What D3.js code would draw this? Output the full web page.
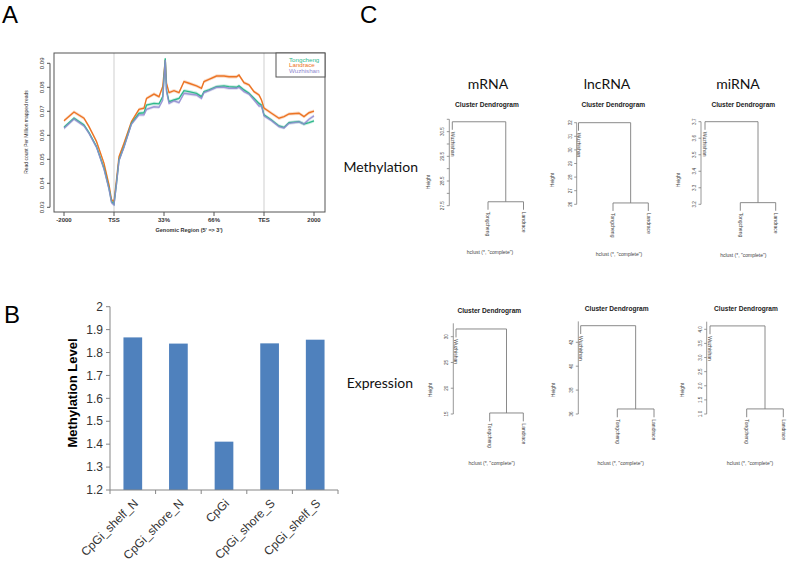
<!DOCTYPE html>
<html><head><meta charset="utf-8">
<script src="https://cdn.jsdelivr.net/npm/d3@7"></script>
<style>body{margin:0;background:#fff}svg{display:block}</style>
</head><body><svg id="c" width="787" height="567"></svg>
<script>
// ---------------- Panel A data ----------------
const binPos = [0,4,8,10,13,16,18,19,20,21,22,24,27,30,32,33,36,38,39.5,40.5,41,42,44,46,48,50,53,55,56,58,61,64,66,69,70,72,74,76,78,79,80,83,86,88,90,94,96,98,100];
const tongcheng = [0.0633,0.0671,0.0643,0.0611,0.0553,0.0463,0.0379,0.0324,0.0313,0.0400,0.0497,0.0553,0.0650,0.0692,0.0694,0.0726,0.0733,0.0731,0.0761,0.0921,0.0789,0.0740,0.0747,0.0754,0.0786,0.0782,0.0775,0.0761,0.0782,0.0789,0.0803,0.0806,0.0803,0.0800,0.0806,0.0789,0.0775,0.0754,0.0733,0.0726,0.0685,0.0664,0.0639,0.0633,0.0653,0.0657,0.0647,0.0653,0.0660];
const landrace = [0.0661,0.0697,0.0671,0.0636,0.0574,0.0483,0.0393,0.0331,0.0324,0.0414,0.0511,0.0567,0.0657,0.0708,0.0713,0.0754,0.0772,0.0761,0.0803,0.0914,0.0817,0.0778,0.0786,0.0778,0.0824,0.0817,0.0806,0.0796,0.0824,0.0833,0.0847,0.0847,0.0844,0.0844,0.0851,0.0819,0.0810,0.0782,0.0768,0.0747,0.0713,0.0692,0.0671,0.0678,0.0689,0.0692,0.0678,0.0694,0.0701];
const wuzhishan = [0.0629,0.0668,0.0639,0.0608,0.0550,0.0458,0.0375,0.0319,0.0310,0.0397,0.0494,0.0550,0.0647,0.0685,0.0685,0.0708,0.0719,0.0717,0.0747,0.0914,0.0782,0.0733,0.0744,0.0736,0.0775,0.0772,0.0768,0.0754,0.0778,0.0786,0.0800,0.0800,0.0796,0.0796,0.0800,0.0782,0.0772,0.0747,0.0722,0.0722,0.0681,0.0661,0.0636,0.0631,0.0650,0.0656,0.0647,0.0667,0.0681];
const ribbonHalf = 0.0007;
const seriesNames = ["Tongcheng","Landrace","Wuzhishan"];
const seriesColors = ["#2fb88c","#ec7424","#8f8ad0"];
const xTickPos = [0,20,40,60,80,100];
const xTickLabels = ["-2000","TSS","33%","66%","TES","2000"];
const guideLinePos = [20,80];
const yTicksA = [0.03,0.04,0.05,0.06,0.07,0.08,0.09];

// ---------------- Panel B data ----------------
const cpgCategories = ["CpGi_shelf_N","CpGi_shore_N","CpGi","CpGi_shore_S","CpGi_shelf_S"];
const cpgValues = [1.866,1.839,1.411,1.840,1.856];
const yTicksB = [1.2,1.3,1.4,1.5,1.6,1.7,1.8,1.9,2];

// ---------------- Panel C data ----------------
const omicsTypes = ["mRNA","lncRNA","miRNA"];
const dataTypes = ["Methylation","Expression"];
const leafLabels = ["Wuzhishan","Tongcheng","Landrace"];
const rootHeights = [30.9, 32.0, 3.70, 31.5, 43.39, 4.12];
const subHeights  = [27.66, 26.1, 3.21, 15.2, 36.42, 1.18];
const heightTicks = [
  [27.5,28,28.5,29,29.5,30,30.5,31],
  [26,27,28,29,30,31,32],
  [3.2,3.3,3.4,3.5,3.6,3.7],
  [15,20,25,30],
  [36,38,40,42],
  [1,1.5,2,2.5,3,3.5,4]
];
const heightTickLabels = [
  ["27.5","","28.5","","29.5","","30.5",""],
  ["26","27","28","29","30","31","32"],
  ["3.2","3.3","3.4","3.5","3.6","3.7"],
  ["15","20","25","30"],
  ["36","38","40","42"],
  ["1.0","1.5","2.0","2.5","3.0","3.5","4.0"]
];
const axisTops = [31, 32, 3.7, 32.6, 43.75, 4.27];

// ---------------- drawing ----------------
const svg = d3.select("#c");
svg.append("rect").attr("width",787).attr("height",567).attr("fill","#fff");
const F = "Liberation Sans, Arial, sans-serif";

[["A",2,23],["B",4,323],["C",360,23]].forEach(([t,x,y])=>{
  svg.append("text").attr("x",x).attr("y",y).text(t)
    .attr("font-family",F).attr("font-size",24).attr("fill","#000");
});

// ===== Panel A =====
(function(){
  const g = svg.append("g");
  const x = d3.scaleLinear().domain([0,100]).range([64,314]);
  const y = d3.scaleLinear().domain([0.03,0.09]).range([207.3,63.3]);
  const box = {x0:54,x1:325,y0:53,y1:212};
  guideLinePos.forEach(p=>{
    g.append("line").attr("x1",x(p)).attr("x2",x(p)).attr("y1",box.y0).attr("y2",box.y1)
      .attr("stroke","#cfcfcf").attr("stroke-width",1);
  });
  const series = [tongcheng, landrace, wuzhishan];
  const order = [1,0,2];
  order.forEach(i=>{
    const area = d3.area().x((d,k)=>x(binPos[k])).y0(d=>y(d-ribbonHalf)).y1(d=>y(d+ribbonHalf));
    g.append("path").attr("d",area(series[i])).attr("fill",seriesColors[i]).attr("opacity",0.25);
  });
  order.forEach(i=>{
    const line = d3.line().x((d,k)=>x(binPos[k])).y(d=>y(d));
    g.append("path").attr("d",line(series[i])).attr("fill","none")
      .attr("stroke",seriesColors[i]).attr("stroke-width",1.4)
      .attr("opacity", i===2?0.85:1);
  });
  g.append("rect").attr("x",box.x0).attr("y",box.y0).attr("width",box.x1-box.x0).attr("height",box.y1-box.y0)
    .attr("fill","none").attr("stroke","#555").attr("stroke-width",1);
  const ax = 50;
  g.append("line").attr("x1",ax).attr("x2",ax).attr("y1",y(0.09)).attr("y2",y(0.03)).attr("stroke","#555");
  yTicksA.forEach(t=>{
    g.append("line").attr("x1",ax-3).attr("x2",ax).attr("y1",y(t)).attr("y2",y(t)).attr("stroke","#555");
    g.append("text").attr("transform",`translate(${ax-6},${y(t)}) rotate(-90)`)
      .attr("text-anchor","middle").attr("font-family",F).attr("font-size",6).attr("fill","#333")
      .text(t.toFixed(2));
  });
  xTickPos.forEach((p,k)=>{
    g.append("line").attr("x1",x(p)).attr("x2",x(p)).attr("y1",box.y1).attr("y2",box.y1+4).attr("stroke","#555");
    g.append("text").attr("x",x(p)).attr("y",box.y1+10).attr("text-anchor","middle")
      .attr("font-family",F).attr("font-size",6).attr("font-weight","bold").attr("fill","#333").text(xTickLabels[k]);
  });
  g.append("text").attr("x",189).attr("y",232).attr("text-anchor","middle")
    .attr("font-family",F).attr("font-size",5.5).attr("font-weight","bold").attr("fill","#333")
    .text("Genomic Region (5' => 3')");
  g.append("text").attr("transform","translate(28,132) rotate(-90)").attr("text-anchor","middle")
    .attr("font-family",F).attr("font-size",5).attr("fill","#333").text("Read count Per Million mapped reads");
  g.append("rect").attr("x",276).attr("y",53).attr("width",49).attr("height",24)
    .attr("fill","#fff").attr("stroke","#555").attr("stroke-width",1);
  seriesNames.forEach((n,i)=>{
    g.append("text").attr("x",289).attr("y",61.5+i*5.6).attr("font-family",F).attr("font-size",6.2)
      .attr("fill",seriesColors[i]).text(n);
  });
})();

// ===== Panel B =====
(function(){
  const g = svg.append("g");
  const x = d3.scaleBand().domain(cpgCategories).range([110,338]).paddingInner(0.59).paddingOuter(0.295);
  const y = d3.scaleLinear().domain([1.2,2]).range([490,306.7]);
  const step = (338-110)/cpgCategories.length;
  g.selectAll(".bar").data(cpgValues).enter().append("rect")
    .attr("x",(d,i)=>x(cpgCategories[i])).attr("width",x.bandwidth())
    .attr("y",d=>y(d)).attr("height",d=>y(1.2)-y(d)).attr("fill","#4f81bd");
  g.append("line").attr("x1",110).attr("x2",110).attr("y1",y(2)).attr("y2",y(1.2)).attr("stroke","#868686");
  g.append("line").attr("x1",110).attr("x2",338).attr("y1",y(1.2)).attr("y2",y(1.2)).attr("stroke","#868686");
  yTicksB.forEach(t=>{
    g.append("line").attr("x1",106).attr("x2",110).attr("y1",y(t)).attr("y2",y(t)).attr("stroke","#868686");
    g.append("text").attr("x",103).attr("y",y(t)).attr("dy","0.35em").attr("text-anchor","end")
      .attr("font-family",F).attr("font-size",12).attr("fill","#333").text(String(t));
  });
  for(let k=0;k<=cpgCategories.length;k++){
    const xx = 110+k*step;
    g.append("line").attr("x1",xx).attr("x2",xx).attr("y1",490).attr("y2",494).attr("stroke","#868686");
  }
  cpgCategories.forEach(c=>{
    const cx = x(c)+x.bandwidth()/2;
    g.append("text").attr("transform",`translate(${cx+6},${504}) rotate(-45)`)
      .attr("text-anchor","end").attr("font-family",F).attr("font-size",12).attr("fill","#333").text(c);
  });
  g.append("text").attr("transform","translate(77,393) rotate(-90)").attr("text-anchor","middle")
    .attr("font-family",F).attr("font-size",13).attr("font-weight","bold").attr("fill","#000").text("Methylation Level");
})();

// ===== Panel C =====
(function(){
  const g = svg.append("g");
  const LF = "Lato, 'Open Sans', sans-serif";
  const omicsX = [488,607,738];
  omicsTypes.forEach((t,i)=>{
    g.append("text").attr("x",omicsX[i]).attr("y",89).attr("text-anchor","middle")
      .attr("font-family",LF).attr("font-size",14).attr("fill","#111").text(t);
  });
  const rowLabel = [[418,172],[413,388]];
  dataTypes.forEach((t,i)=>{
    g.append("text").attr("x",rowLabel[i][0]).attr("y",rowLabel[i][1]).attr("text-anchor","end")
      .attr("font-family",LF).attr("font-size",14).attr("fill","#111").text(t);
  });
  const layout = [
    {ax:449.3, lx:[452.3,488,523.5], dom:[27.5,31], rng:[205.7,119.3], t:[487,107], s:[490,254], h:[430,182]},
    {ax:576.7, lx:[578.5,613,648.3], dom:[26,32], rng:[204.3,122.7], t:[613.3,107.3], s:[619,256], h:[554,180]},
    {ax:701, lx:[705,740.3,775.7], dom:[3.2,3.7], rng:[204.3,121.7], t:[743.3,107.3], s:[743.3,256.7], h:[680,180]},
    {ax:453.3, lx:[456,489.7,523.3], dom:[15,30], rng:[414,336.7], t:[489.3,313], s:[491.7,465], h:[431.7,390]},
    {ax:578.3, lx:[580.7,617.3,654], dom:[36,42], rng:[414,342.3], t:[616.7,310.7], s:[620.7,465], h:[555,390]},
    {ax:706.7, lx:[710,746.7,783.3], dom:[1,4], rng:[414,329.3], t:[746,310.7], s:[750,465], h:[684,390]}
  ];
  const lc = "#7d7d7d", tc = "#444";
  layout.forEach((L,i)=>{
    const y = d3.scaleLinear().domain(L.dom).range(L.rng);
    const root = rootHeights[i], sub = subHeights[i];
    const hang = 0.1*(root-sub);
    const [x0,x1,x2] = L.lx;
    const xm = (x1+x2)/2;
    const p = d3.path();
    p.moveTo(x0,y(root-hang)); p.lineTo(x0,y(root)); p.lineTo(xm,y(root)); p.lineTo(xm,y(sub));
    p.moveTo(x1,y(sub-hang)); p.lineTo(x1,y(sub)); p.lineTo(x2,y(sub)); p.lineTo(x2,y(sub-hang));
    g.append("path").attr("d",p.toString()).attr("fill","none").attr("stroke",lc).attr("stroke-width",0.9);
    g.append("line").attr("x1",L.ax).attr("x2",L.ax).attr("y1",y(heightTicks[i][0])).attr("y2",y(axisTops[i]))
      .attr("stroke",lc).attr("stroke-width",0.8);
    heightTicks[i].forEach((t,k)=>{
      g.append("line").attr("x1",L.ax-2.5).attr("x2",L.ax).attr("y1",y(t)).attr("y2",y(t)).attr("stroke",lc).attr("stroke-width",0.8);
      const lab = heightTickLabels[i][k];
      if(lab) g.append("text").attr("transform",`translate(${L.ax-5},${y(t)}) rotate(-90)`)
        .attr("text-anchor","middle").attr("font-family",F).attr("font-size",4.6).attr("fill",tc).text(lab);
    });
    const ends = [y(root-hang), y(sub-hang), y(sub-hang)];
    leafLabels.forEach((n,k)=>{
      g.append("text").attr("transform",`translate(${L.lx[k]},${ends[k]+2}) rotate(90)`)
        .attr("dy","0.35em").attr("font-family",F).attr("font-size",5).attr("fill",tc).text(n);
    });
    g.append("text").attr("x",L.t[0]).attr("y",L.t[1]).attr("text-anchor","middle")
      .attr("font-family",F).attr("font-size",6.6).attr("font-weight","bold").attr("fill","#222").text("Cluster Dendrogram");
    g.append("text").attr("x",L.s[0]).attr("y",L.s[1]).attr("text-anchor","middle")
      .attr("font-family",F).attr("font-size",5).attr("fill",tc).text('hclust (*, "complete")');
    g.append("text").attr("transform",`translate(${L.h[0]},${L.h[1]}) rotate(-90)`).attr("text-anchor","middle")
      .attr("font-family",F).attr("font-size",5).attr("fill",tc).text("Height");
  });
})();
</script></body></html>
